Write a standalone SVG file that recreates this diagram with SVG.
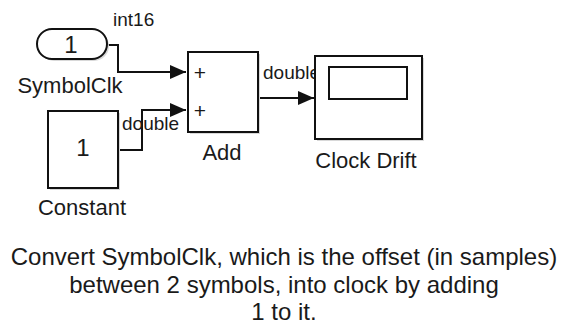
<svg xmlns="http://www.w3.org/2000/svg" width="567" height="333" viewBox="0 0 567 333">
<defs>
<style>
text{font-family:"Liberation Sans",Arial,sans-serif;fill:#1a1a1a}
.blk{fill:#fff;stroke:#111;stroke-width:2}
.sh{fill:#d8d8d8;stroke:none}
.ln{fill:none;stroke:#111;stroke-width:2}
.lbl{font-size:22px;text-anchor:middle}
.num{font-size:24px;text-anchor:middle}
.sig{font-size:19px}
.pl{font-size:21px;text-anchor:middle}
.note{font-size:24px;text-anchor:middle}
</style>
<marker id="ah2" viewBox="0 0 16 14" refX="16" refY="7" markerWidth="16" markerHeight="14" markerUnits="userSpaceOnUse" orient="auto">
<path d="M0,0 L16,7 L0,14 Z" fill="#111"/>
</marker>
</defs>
<g id="connectors">
<polyline class="ln" points="107,45 118,45 118,72 186,72" marker-end="url(#ah2)"/>
<polyline class="ln" points="118,150 142,150 142,110 186,110" marker-end="url(#ah2)"/>
<polyline class="ln" points="258,98 314,98" marker-end="url(#ah2)"/>
<text class="sig" x="113" y="26">int16</text>
<text class="sig" x="122" y="130">double</text>
<text class="sig" x="263" y="79">double</text>
</g>
<g id="SymbolClk">
<rect class="sh" x="39" y="31" width="70" height="30" rx="15"/>
<rect class="blk" x="37" y="29" width="70" height="30" rx="15"/>
<text class="num" x="71" y="53">1</text>
<text class="lbl" x="70" y="93">SymbolClk</text>
</g>
<g id="Constant">
<rect class="sh" x="50" y="113" width="70" height="77"/>
<rect class="blk" x="48" y="111" width="70" height="77"/>
<text class="num" x="83" y="156">1</text>
<text class="lbl" x="82" y="215">Constant</text>
</g>
<g id="Add">
<rect class="sh" x="190" y="54" width="70" height="80"/>
<rect class="blk" x="188" y="52" width="70" height="80"/>
<text class="pl" x="200" y="80">+</text>
<text class="pl" x="200" y="118">+</text>
<text class="lbl" x="222" y="160">Add</text>
</g>
<g id="ClockDrift">
<rect class="sh" x="317" y="58" width="107" height="83"/>
<rect class="blk" x="315" y="56" width="107" height="83"/>
<rect class="ln" x="329" y="67" width="78" height="32"/>
<text class="lbl" x="366" y="168">Clock Drift</text>
</g>
<g id="note">
<text class="note" x="284" y="265">Convert SymbolClk, which is the offset (in samples)</text>
<text class="note" x="284" y="293">between 2 symbols, into clock by adding</text>
<text class="note" x="284" y="320">1 to it.</text>
</g>
</svg>
